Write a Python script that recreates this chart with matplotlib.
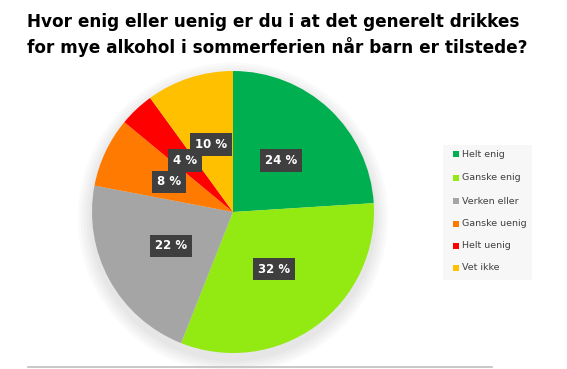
import matplotlib
matplotlib.use("Agg")
import matplotlib.pyplot as plt
from matplotlib.patches import Circle, Rectangle

categories = ["Helt enig", "Ganske enig", "Verken eller", "Ganske uenig", "Helt uenig", "Vet ikke"]
values = [24, 32, 22, 8, 4, 10]
colors = ["#00B050", "#92EA12", "#A5A5A5", "#FF7A00", "#FF0000", "#FFC000"]
title = "Hvor enig eller uenig er du i at det generelt drikkes\nfor mye alkohol i sommerferien når barn er tilstede?"

W, H = 567, 369
fig = plt.figure(figsize=(W / 100, H / 100), dpi=100)
fig.patch.set_facecolor("white")

# pie axes
cx, cy, r = 233, 212, 141
ax = fig.add_axes([(cx - r) / W, (H - cy - r) / H, 2 * r / W, 2 * r / H])
ax.set_aspect("equal")
ax.axis("off")

# soft shadow
for i in range(5):
    c = Circle((0.0, -0.04), 1.0 + 0.02 * (5 - i), color="black", alpha=0.018, lw=0, zorder=0)
    c.set_clip_on(False)
    ax.add_patch(c)

wedges, texts, autotexts = ax.pie(
    values, colors=colors, startangle=90, counterclock=False, radius=1,
    autopct=lambda p: f"{p:.0f} %", pctdistance=0.5,
    wedgeprops=dict(linewidth=0), textprops=dict(color="white", fontsize=8.5, fontweight="bold"),
)
for t in autotexts:
    t.set_bbox(dict(boxstyle="square,pad=0.42", facecolor="#3F3F3F", edgecolor="none"))
    t.set_zorder(5)

ax.set_xlim(-1, 1)
ax.set_ylim(-1, 1)

# title
fig.text(27 / W, 1 - 35 / H, title, ha="left", va="center",
         fontsize=12.2, fontweight="bold", color="black", linespacing=1.35)

# legend
lx0, ly0, lx1, ly1 = 443, 145, 532, 280
fig.patches.append(Rectangle((lx0 / W, 1 - ly1 / H), (lx1 - lx0) / W, (ly1 - ly0) / H,
                             transform=fig.transFigure, facecolor="#F7F7F7", edgecolor="none"))
ys = [154, 178, 201, 224, 246, 268]
for lab, col, y in zip(categories, colors, ys):
    fig.patches.append(Rectangle((453 / W, 1 - (y + 3) / H), 6 / W, 6 / H,
                                 transform=fig.transFigure, facecolor=col, edgecolor="none"))
    fig.text(462 / W, 1 - y / H, lab, ha="left", va="center", fontsize=6.8, color="#404040")

# bottom line
fig.add_artist(plt.Line2D([28 / W, 492 / W], [1 - 367 / H] * 2, color="#BFBFBF", lw=1.2))

fig.savefig("out.png", dpi=100)
